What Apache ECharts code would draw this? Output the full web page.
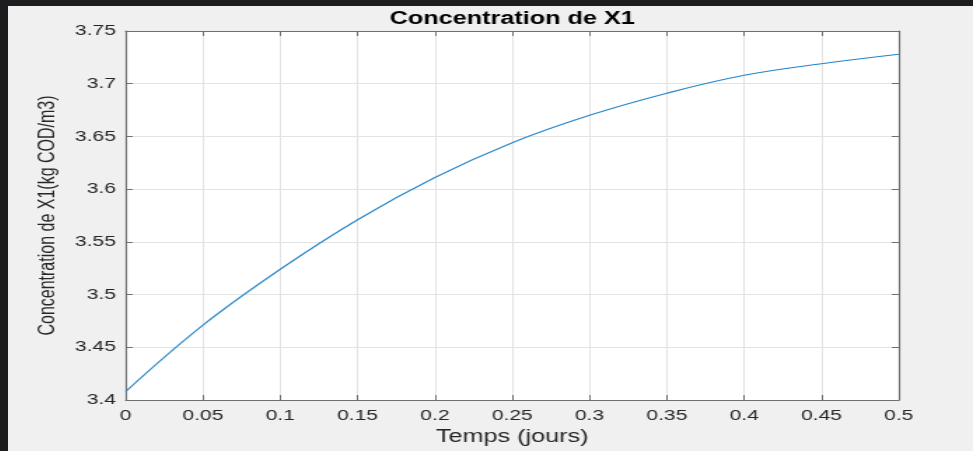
<!DOCTYPE html>
<html>
<head>
<meta charset="utf-8">
<title>Concentration de X1</title>
<script src="https://cdn.jsdelivr.net/npm/echarts@6/dist/echarts.min.js"></script>
<style>
  html, body { margin: 0; padding: 0; background: #1d1c1e; overflow: hidden; }
  #frame { position: absolute; left: 8px; top: 6px; width: 965px; height: 445px; background: #f0f0f0; overflow: hidden; }
  /* the source figure is stretched horizontally, so draw narrow and stretch */
  #chart { width: 689px; height: 445px; transform: scaleX(1.4006); transform-origin: 0 0; }
</style>
</head>
<body>
<div id="frame"><div id="chart"></div></div>
<script>
  // temps (jours) / concentration X1 (kg COD/m3)
  var timeDays = [0, 0.05, 0.1, 0.15, 0.2, 0.25, 0.3, 0.35, 0.4, 0.45, 0.5]
  var x1Values = [3.408, 3.471, 3.524, 3.571, 3.611, 3.644, 3.670, 3.691, 3.708, 3.719, 3.728]
  var xTicks = { min: 0, max: 0.5, step: 0.05 }
  var yTicks = { min: 3.4, max: 3.75, step: 0.05 }

  var points = timeDays.map(function (t, i) { return [t, x1Values[i]] })

  var font = 'Arial, "Liberation Sans", Helvetica, sans-serif'
  var axisColor = '#707070'
  var fmt = function (v) { return String(parseFloat(v.toFixed(2))) }

  function makeAxis(range, opts) {
    return Object.assign({
      type: 'value',
      min: range.min,
      max: range.max,
      interval: range.step,
      axisLine: { onZero: false, lineStyle: { color: axisColor, width: 1.2 } },
      axisTick: { inside: true, length: 5, lineStyle: { color: axisColor, width: 1 } },
      axisLabel: { show: false },
      splitLine: { show: false }
    }, opts)
  }

  var chart = echarts.init(document.getElementById('chart'))
  chart.setOption({
    animation: false,
    backgroundColor: '#f0f0f0',
    title: {
      text: 'Concentration de X1',
      left: 360,
      textAlign: 'center',
      top: 4,
      padding: 0,
      textStyle: { fontFamily: font, fontSize: 18, fontWeight: 'bold', color: '#000' }
    },
    grid: {
      left: 84, right: 53, top: 25, bottom: 45,
      show: true, backgroundColor: '#fff', borderWidth: 0
    },
    xAxis: [
      makeAxis(xTicks, {
        position: 'bottom',
        name: 'Temps (jours)',
        nameLocation: 'middle',
        nameGap: 28,
        nameTextStyle: { fontFamily: font, fontSize: 18, color: '#262626' },
        axisLabel: { show: true, margin: 8, fontFamily: font, fontSize: 15, color: '#262626', formatter: fmt },
        splitLine: { show: true, lineStyle: { color: '#e3e3e3', width: 1 } }
      }),
      makeAxis(xTicks, { position: 'top' })
    ],
    yAxis: [
      makeAxis(yTicks, {
        position: 'left',
        name: 'Concentration de X1(kg COD/m3)',
        nameLocation: 'middle',
        nameGap: 42,
        nameTextStyle: { fontFamily: font, fontSize: 16, color: '#262626' },
        axisLabel: { show: true, margin: 7, fontFamily: font, fontSize: 15, color: '#262626', formatter: fmt },
        splitLine: { show: true, lineStyle: { color: '#e3e3e3', width: 1 } }
      }),
      makeAxis(yTicks, { position: 'right' })
    ],
    series: [{
      type: 'line',
      data: points,
      smooth: 0.4,
      showSymbol: false,
      lineStyle: { color: '#2385c9', width: 1.1 }
    }]
  })
</script>
</body>
</html>
